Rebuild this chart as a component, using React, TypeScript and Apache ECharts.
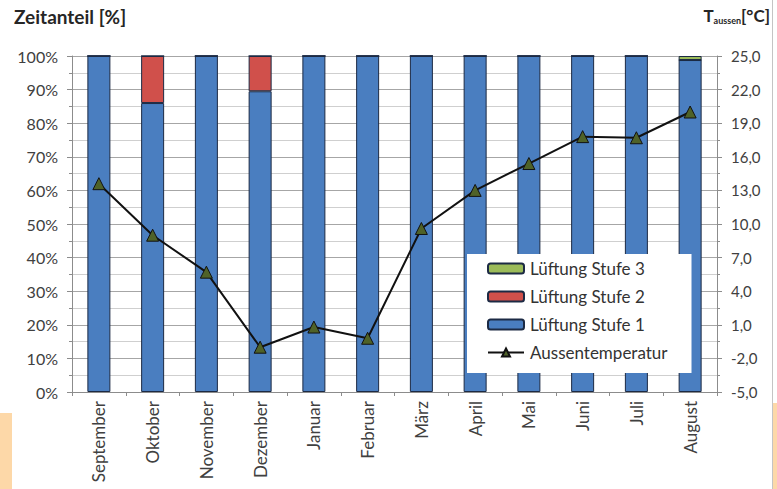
import React, { useEffect, useRef } from "react";
import * as echarts from "echarts";

const months = [
  "September", "Oktober", "November", "Dezember", "Januar", "Februar",
  "März", "April", "Mai", "Juni", "Juli", "August",
];
const stufe1 = [100, 86, 100, 89.5, 100, 100, 100, 100, 100, 100, 100, 98.8];
const stufe2 = [0, 14, 0, 10.5, 0, 0, 0, 0, 0, 0, 0, 0];
const stufe3 = [0, 0, 0, 0, 0, 0, 0, 0, 0, 0, 0, 1.2];
const aussentemperatur = [13.6, 9.0, 5.7, -1.0, 0.8, -0.2, 9.6, 13.0, 15.4, 17.8, 17.7, 20.0];

const FONT = "Lato, 'Open Sans', sans-serif";
const TEXT = "#404040";

export default function App() {
  const ref = useRef<HTMLDivElement>(null);

  useEffect(() => {
    if (!ref.current) return;
    const chart = echarts.init(ref.current, undefined, { renderer: "svg" });
    const barBase = {
      type: "bar" as const,
      stack: "zeit",
      barWidth: 23,
      itemStyle: { borderColor: "#1c2a44", borderWidth: 1 },
    };
    chart.setOption({
      animation: false,
      backgroundColor: "#ffffff",
      textStyle: { fontFamily: FONT },
      grid: { left: 72, right: 60, top: 56, bottom: 97, containLabel: false },
      graphic: [
        { type: "rect", shape: { x: 0, y: 413, width: 12, height: 76 }, style: { fill: "#fdd8a8" }, silent: true },
        { type: "rect", shape: { x: 773, y: 403, width: 4, height: 86 }, style: { fill: "#fdd8a8" }, silent: true },
        { type: "line", shape: { x1: 772.5, y1: 0, x2: 772.5, y2: 489 }, style: { stroke: "#c4c4c4", lineWidth: 1 }, silent: true },
        {
          type: "text", left: 14, top: 7,
          style: { text: "Zeitanteil [%]", font: `bold 19px ${FONT}`, fill: "#262626" },
        },
        {
          type: "text", right: 7, top: 7,
          style: {
            text: "T{sub|aussen}[°C]",
            font: `bold 17px ${FONT}`,
            fill: "#262626",
            rich: { sub: { fontSize: 9, fontWeight: "bold", fontFamily: FONT, verticalAlign: "bottom", padding: [10, 0, 0, 0] } },
          },
        },
      ],
      legend: {
        orient: "vertical",
        left: 467,
        top: 254,
        padding: [6, 24, 12, 20],
        backgroundColor: "#ffffff",
        itemWidth: 36,
        itemHeight: 10,
        itemGap: 11,
        textStyle: { fontFamily: FONT, fontSize: 17, color: "#333333", padding: [0, 0, 0, 1] },
        data: [
          { name: "Lüftung Stufe 3" },
          { name: "Lüftung Stufe 2" },
          { name: "Lüftung Stufe 1" },
          { name: "Aussentemperatur" },
        ],
      },
      xAxis: {
        type: "category",
        data: months,
        axisLine: { lineStyle: { color: "#8c8c8c" } },
        axisTick: { show: true, alignWithLabel: false, length: 4, lineStyle: { color: "#8c8c8c" } },
        axisLabel: { rotate: 90, margin: 9, fontSize: 17, color: TEXT, fontFamily: FONT },
        splitLine: { show: false },
      },
      yAxis: [
        {
          type: "value", min: 0, max: 100, interval: 10,
          axisLine: { show: true, lineStyle: { color: "#8c8c8c" } },
          axisTick: { show: true, length: 5, lineStyle: { color: "#8c8c8c" } },
          minorTick: { show: true, splitNumber: 2, length: 3, lineStyle: { color: "#8c8c8c" } },
          axisLabel: { formatter: (v: number) => `${v}%`, margin: 14, fontSize: 16, color: TEXT, fontFamily: FONT },
          splitLine: { show: true, lineStyle: { color: "#a6a6a6", width: 1 } },
          minorSplitLine: { show: true, lineStyle: { color: "#cfcfcf", width: 1 } },
        },
        {
          type: "value", min: -5, max: 25, interval: 3,
          axisLine: { show: true, lineStyle: { color: "#8c8c8c" } },
          axisTick: { show: true, length: 5, lineStyle: { color: "#8c8c8c" } },
          minorTick: { show: true, splitNumber: 2, length: 3, lineStyle: { color: "#8c8c8c" } },
          axisLabel: {
            formatter: (v: number) => v.toFixed(1).replace(".", ","),
            margin: 14, fontSize: 15, color: TEXT, fontFamily: FONT,
          },
          splitLine: { show: false },
        },
      ],
      series: [
        { ...barBase, name: "Lüftung Stufe 1", data: stufe1, itemStyle: { ...barBase.itemStyle, color: "#4a7ec0" } },
        { ...barBase, name: "Lüftung Stufe 2", data: stufe2, itemStyle: { ...barBase.itemStyle, color: "#d0504b" } },
        { ...barBase, name: "Lüftung Stufe 3", data: stufe3, itemStyle: { ...barBase.itemStyle, color: "#9bbb59" } },
        {
          name: "Aussentemperatur",
          type: "line",
          yAxisIndex: 1,
          data: aussentemperatur,
          symbol: "triangle",
          symbolSize: 12,
          z: 5,
          lineStyle: { color: "#111111", width: 2 },
          itemStyle: { color: "#4f6228", borderColor: "#111111", borderWidth: 1 },
        },
      ],
    });
    return () => chart.dispose();
  }, []);

  return (
    <div
      ref={ref}
      style={{ position: "fixed", left: 0, top: 0, width: 777, height: 489 }}
    />
  );
}
